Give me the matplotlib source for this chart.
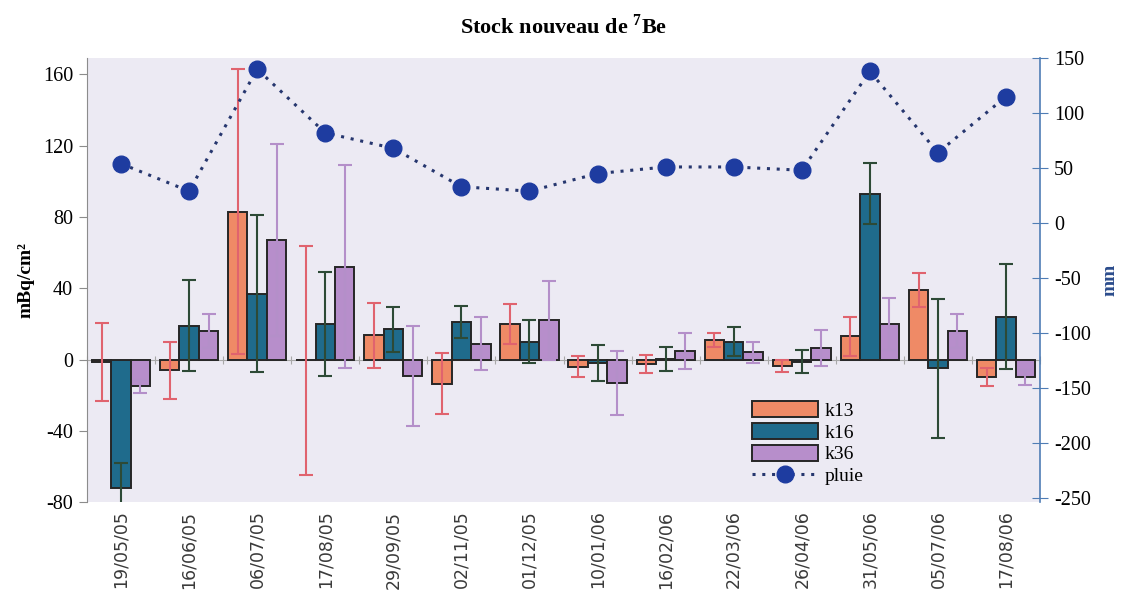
import numpy as np
import matplotlib.pyplot as plt

plt.rcParams['font.family'] = ['Liberation Serif', 'DejaVu Serif']
plt.rcParams['mathtext.fontset'] = 'custom'
plt.rcParams['mathtext.rm'] = 'Liberation Serif'
plt.rcParams['mathtext.bf'] = 'Liberation Serif:bold'
plt.rcParams['axes.unicode_minus'] = False

dates = ['19/05/05', '16/06/05', '06/07/05', '17/08/05', '29/09/05', '02/11/05', '01/12/05',
         '10/01/06', '16/02/06', '22/03/06', '26/04/06', '31/05/06', '05/07/06', '17/08/06']

# stock de 7Be (mBq/cm2) et incertitudes
k13 = [-1.5, -6, 83, -0.5, 13.5, -13.5, 20, -4, -2.3, 11, -3.5, 13, 39, -10]
k13_err = [22, 16, 80, 64, 18, 17, 11, 6, 5, 4, 3.5, 11, 9.5, 5]
k16 = [-72, 19, 37, 20, 17, 21, 10, -2, 0.3, 10, -1.3, 93, -5, 24]
k16_err = [14, 25.5, 44, 29, 12.5, 9, 12, 10, 6.5, 8, 6.5, 17, 39, 29.5]
k36 = [-15, 16, 67, 52, -9, 9, 22, -13, 4.8, 4, 6.5, 20, 16, -10]
k36_err = [3.5, 9.5, 54, 57, 28, 15, 22, 18, 10, 6, 10, 14.5, 9.5, 4]

# pluie cumulee (mm)
pluie = [54, 29, 140, 82, 68, 33, 29, 45, 51, 51, 48, 138, 64, 115]

fig = plt.figure(figsize=(11.21, 5.93), dpi=100)
ax = fig.add_axes([0.0776, 0.153, 0.8502, 0.749])
ax.set_facecolor('#ECEAF3')

x = np.arange(len(dates))
w = 0.285
series = [
    (-1, k13, k13_err, '#EF8A66', '#E0636E', 'k13'),
    (0, k16, k16_err, '#1F6B8C', '#2D4A36', 'k16'),
    (1, k36, k36_err, '#B78ECB', '#B48FC9', 'k36'),
]
for off, vals, errs, color, ecolor, label in series:
    ax.bar(x + off * w, vals, w, color=color, edgecolor='#262626', linewidth=1.4,
           label=label, zorder=2)
    ax.errorbar(x + off * w, vals, yerr=errs, fmt='none', ecolor=ecolor,
                elinewidth=1.5, capsize=5, capthick=1.5, zorder=3)

ax.set_xlim(-0.5, len(dates) - 0.5)
ax.set_ylim(-80, 169)
ax.set_yticks(range(-80, 161, 40))
ax.set_xticks(x, dates, rotation=90, fontfamily='DejaVu Sans', fontsize=12.5, color='#3a3a3a')
ax.tick_params(axis='x', length=0, pad=6)
ax.tick_params(axis='y', direction='out', length=6, color='#8c8c8c', labelsize=14.5, pad=4)
for s in ['top', 'right', 'bottom']:
    ax.spines[s].set_visible(False)
ax.spines['left'].set_color('#8c8c8c')
ax.set_ylabel('mBq/cm²', fontsize=14, fontweight='bold', labelpad=6)

# axe des categories a y = 0
zero = ax.secondary_xaxis(80 / 249)
zero.set_xticks(np.arange(len(dates) + 1) - 0.5)
zero.tick_params(direction='inout', length=6, color='#a8a8a8', labelbottom=False)
zero.spines['bottom'].set_color('#a8a8a8')
zero.spines['bottom'].set_linewidth(0.8)

ax2 = ax.twinx()
ax2.plot(x, pluie, linestyle=(0, (1, 2.2)), color='#26366E', lw=2.2, marker='o', ms=12,
         mfc='#1E3CA0', mec='#1E3CA0', label='pluie', zorder=4)
ax2.set_ylim(-254, 150)
ax2.set_yticks(range(-250, 151, 50))
for s in ['top', 'left', 'bottom']:
    ax2.spines[s].set_visible(False)
ax2.spines['right'].set_color('#4F7DB5')
ax2.spines['right'].set_linewidth(1.2)
ax2.tick_params(axis='y', direction='inout', length=12, color='#4F7DB5', labelsize=14.5, pad=4)
ax2.set_ylabel('mm', fontsize=14, fontweight='bold', color='#2B4C8C', labelpad=8)

h1, l1 = ax.get_legend_handles_labels()
h2, l2 = ax2.get_legend_handles_labels()
ax2.legend(h1 + h2, l1 + l2, loc='upper left', bbox_to_anchor=(0.69, 0.245), frameon=False,
           fontsize=14, handlelength=3.4, handleheight=0.9, labelspacing=0.15,
           handletextpad=0.3, borderaxespad=0)

fig.text(0.503, 0.943, r'Stock nouveau de $^{\mathbf{7}}$Be', ha='center', fontsize=16,
         fontweight='bold')

fig.savefig('out.png', dpi=100)
